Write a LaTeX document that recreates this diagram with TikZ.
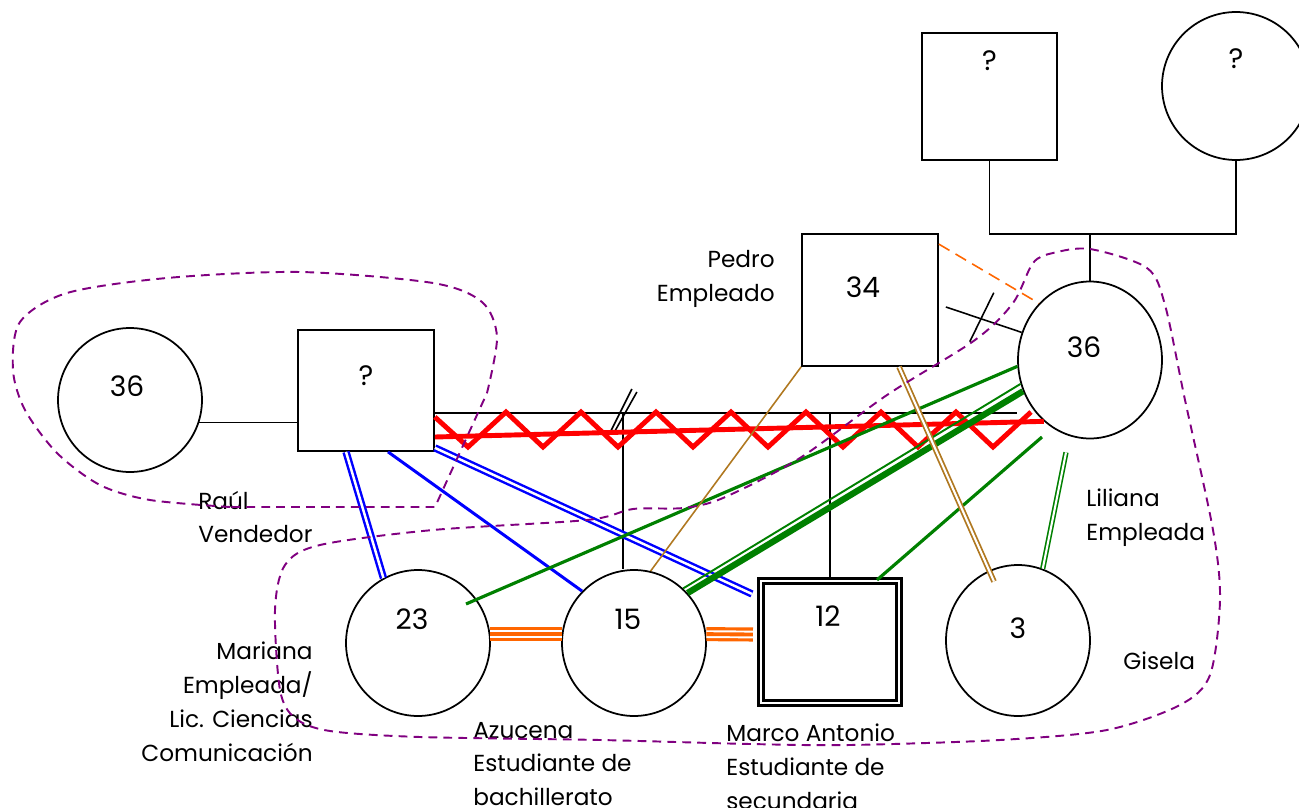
\documentclass[tikz,border=0pt]{standalone}
\usepackage{fontspec}
\setmainfont{Poppins}
\usetikzlibrary{shapes.geometric,calc}

\definecolor{lila}{RGB}{128,0,128}
\definecolor{naranja}{RGB}{255,102,0}
\definecolor{cafe}{RGB}{176,120,32}
\definecolor{verde}{RGB}{0,128,0}

\tikzset{
  mujer/.style={ellipse,draw,line width=1pt,minimum width=2.88cm,inner sep=0pt},
  hombre/.style={rectangle,draw,line width=1pt,inner sep=0pt},
  every label/.style={font=\fontsize{16}{19}\selectfont},
  nota/.style={inner sep=0pt},
  linea/.style={line width=.9pt},
  conflicto/.style={draw=red,line width=2.8pt},
  azul/.style={draw=blue,line width=1.7pt},
  azuldoble/.style={draw=blue,line width=1.4pt,double=white,double distance=1.4pt},
  verdeuno/.style={draw=verde,line width=1.8pt},
  verdefino/.style={draw=verde,line width=1.1pt},
  verdegrueso/.style={draw=verde,line width=3.6pt},
  verdedoble/.style={draw=verde,line width=.9pt,double=white,double distance=1.2pt},
  cafeuno/.style={draw=cafe,line width=.9pt},
  cafedoble/.style={draw=cafe,line width=1pt,double=white,double distance=1.2pt},
  triple/.style={preaction={draw=naranja,line width=8pt},draw=white,line width=1.1pt,
    double=naranja,double distance=2.2pt},
  grupo/.style={draw=lila,line width=1.1pt,dash pattern=on 5pt off 3.5pt},
}

\begin{document}
\begin{tikzpicture}[x=0.02cm,y=-0.02cm,font=\fontsize{13.2}{19.3}\selectfont]
\useasboundingbox (0,0) rectangle (1299,808);
\clip (0,0) rectangle (1299,808);

% padres de Liliana
\node[hombre,minimum width=2.7cm,minimum height=2.54cm,label={[yshift=0.72cm]center:?}] (abuelo) at (989.5,96.5) {};
\node[mujer,minimum width=2.96cm,minimum height=2.96cm,label={[yshift=0.55cm]center:?}] (abuela) at (1236,86) {};

% parejas
\node[hombre,minimum width=2.72cm,minimum height=2.64cm,label={[shift={(-0.14cm,0.25cm)}]center:34}] (pedro) at (870,300) {};
\node[mujer,minimum height=3.14cm,label={[shift={(-0.12cm,0.26cm)}]center:36}] (liliana) at (1090,360) {};
\node[mujer,minimum height=2.88cm,label={[shift={(-0.06cm,0.28cm)}]center:36}] (ex) at (130,400) {};
\node[hombre,minimum width=2.72cm,minimum height=2.42cm,label={[yshift=0.29cm]center:?}] (raul) at (366,390.5) {};

% hijos
\node[mujer,minimum height=2.92cm,label={[shift={(-0.12cm,0.48cm)}]center:23}] (mariana) at (418,643) {};
\node[mujer,minimum height=2.92cm,label={[shift={(-0.12cm,0.48cm)}]center:15}] (azucena) at (634,643) {};
\node[hombre,double,line width=1.5pt,double distance=1.3pt,minimum width=2.75cm,minimum height=2.43cm,
  label={[shift={(-0.04cm,0.52cm)}]center:12}] (marco) at (830,642) {};
\node[mujer,minimum height=3.02cm,label={[yshift=0.24cm]center:3}] (gisela) at (1018,640.5) {};

% textos
\node[nota,anchor=east,align=right] (tpedro) at (775,279) {Pedro\\Empleado};
\node[nota,anchor=west,align=left] (traul) at (198,517) {Raúl\\Vendedor};
\node[nota,anchor=west,align=left] (tliliana) at (1086,518) {Liliana\\Empleada};
\node[nota,anchor=west] (tgisela) at (1123,661) {Gisela};
\node[nota,anchor=east,align=right] (tmariana) at (313,702) {Mariana\\Empleada/\\Lic. Ciencias\\Comunicación};
\node[nota,anchor=west,align=left] (tazucena) at (473,764) {Azucena\\Estudiante de\\bachillerato};
\node[nota,anchor=west,align=left] (tmarco) at (726,767) {Marco Antonio\\Estudiante de\\secundaria};

% lineas de familia
\coordinate (padres) at (1090,234);
\draw[linea] (abuelo.south) |- (padres) -| (abuela.south);
\draw[linea] (padres) -- (liliana.north);
\draw[linea] (ex.-18) -- (ex.-18 -| raul.west);
\coordinate (u1) at ($(raul.east)+(0,22.5)$);
\draw[linea] (u1) -- (u1 -| liliana.west);
\coordinate (corte) at ($(u1)+(188,0)$);
\draw[linea] ($(corte)+(-13,20)$) -- ++(22,-44);
\draw[linea] ($(corte)+(-9,20)$) -- ++(23,-41);
\draw[linea] (corte) -- (corte |- azucena.north);
\draw[linea] (u1 -| marco.north) -- (marco.north);
\draw[linea] ($(pedro.east)+(7,7)$) -- coordinate (sep) (liliana.158);
\draw[linea] ($(sep)+(10,-27)$) -- ++(-24,49);

% relaciones
\draw[conflicto] ($(raul.east)+(0,26.5)$) foreach \k in {0,...,7} { -- (468+75*\k,447) -- (506+75*\k,412) };
\draw[conflicto] ($(raul.east)+(0,46.5)$) -- (liliana.233);
\draw[azuldoble] ($(raul.south)+(-20,0)$) -- (mariana.118);
\draw[azul] ($(raul.south)+(22,0)$) -- (azucena.135);
\draw[azuldoble] ($(raul.south east)+(0,-4)$) -- ($(marco.north west)+(-8,14)$);
\draw[verdeuno] (liliana.185) -- ($(mariana)+(48,-39)$);
\draw[verdefino] (liliana.199) -- (azucena.48);
\draw[verdegrueso] (liliana.205) -- (azucena.43);
\draw[verdeuno] ($(liliana)+(-48,77)$) -- ($(marco.north)+(47,0)$);
\draw[verdedoble] ($(liliana.south)+(-24,13)$) -- (gisela.71);
\draw[cafeuno] (pedro.south west) -- (azucena.77);
\draw[cafedoble] ($(pedro.south)+(29,0)$) -- ($(gisela)+(-24,-59)$);
\draw[triple] (mariana.7) -- (azucena.173);
\draw[triple] (azucena.7) -- ($(marco.west)+(-7,-7.5)$);
\draw[draw=naranja,line width=.9pt,dash pattern=on 7pt off 4pt] ($(pedro.north east)+(0,11)$) -- (liliana.132);

% grupos
\draw[grupo] plot[smooth] coordinates {(230,507) (150,500) (100,485) (57,453) (25,410) (13,370)
  (20,322) (67,293) (167,278) (300,272) (433,283) (482,302) (497,337) (487,393)} -- (435,507) -- cycle;
\draw[grupo] plot[smooth cycle] coordinates {(1090,249) (1147,268) (1165,305) (1185,400) (1213,530)
  (1220,600) (1210,675) (1180,705) (1107,730) (1000,740) (850,745) (750,744) (600,740) (420,737)
  (330,731) (295,718) (280,690) (275,610) (285,565) (320,545) (433,530) (587,520) (633,509)
  (683,508) (723,498) (800,458) (887,395) (975,340) (1013,303) (1033,263) (1053,253)};
\end{tikzpicture}
\end{document}
